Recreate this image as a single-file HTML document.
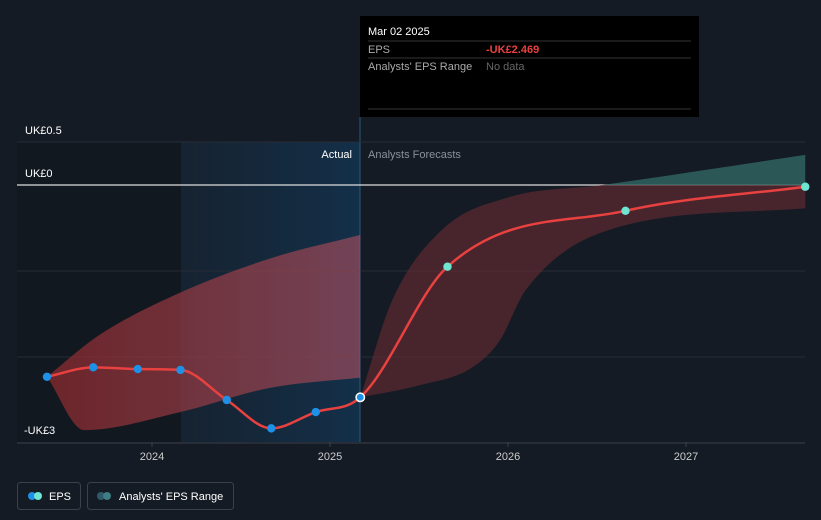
<!DOCTYPE html>
<html><head><meta charset="utf-8"><style>
body{margin:0;background:#151b24;font-family:"Liberation Sans",sans-serif;}
svg{display:block}
</style></head><body>
<svg id="c" width="821" height="520">
<defs>
<linearGradient id="hl" x1="0" x2="1"><stop offset="0" stop-color="#16283a" stop-opacity="0.6"/><stop offset="1" stop-color="#13304a"/></linearGradient>
<linearGradient id="pastband" x1="0" x2="1" y1="0" y2="0"><stop offset="0" stop-color="#8a2a2e" stop-opacity="0.75"/><stop offset="1" stop-color="#b0505f" stop-opacity="0.6"/></linearGradient>
<clipPath id="below"><rect x="0" y="185" width="821" height="300"/></clipPath>
<clipPath id="above"><rect x="0" y="100" width="821" height="85"/></clipPath>
</defs>
<rect x="0" y="0" width="821" height="520" fill="#151b24"/>
<rect x="17" y="142" width="164" height="300" fill="#121820"/>
<rect x="181" y="142" width="179" height="300" fill="url(#hl)"/>
<line x1="360" y1="117" x2="360" y2="442" stroke="#2a5a80" stroke-width="1"/>
<g id="grid"></g>
<g id="bands"></g>
<path id="eps-line" fill="none" stroke="#e8413f" stroke-width="2.5"/>
<g id="pts"></g>
<text x="352" y="158" fill="#fff" font-size="11" text-anchor="end">Actual</text>
<text x="368" y="158" fill="#8a9099" font-size="11">Analysts Forecasts</text>
<text x="25" y="134" fill="#fff" font-size="11">UK£0.5</text>
<text x="25" y="177" fill="#fff" font-size="11">UK£0</text>
<text x="24" y="434" fill="#fff" font-size="11">-UK£3</text>
<g id="xt"></g>
<g>
<rect x="360" y="16" width="339" height="101" fill="#000"/>
<text x="368" y="35" fill="#fff" font-size="11">Mar 02 2025</text>
<line x1="368" y1="41" x2="691" y2="41" stroke="#333"/>
<text x="368" y="53" fill="#aaa" font-size="11">EPS</text>
<text x="486" y="53" fill="#e8413f" font-size="11" font-weight="bold">-UK£2.469</text>
<line x1="368" y1="58" x2="691" y2="58" stroke="#333"/>
<text x="368" y="70" fill="#aaa" font-size="11">Analysts' EPS Range</text>
<text x="486" y="70" fill="#666" font-size="11">No data</text>
<line x1="368" y1="109" x2="691" y2="109" stroke="#333"/>
</g>
<g>
<rect x="17.5" y="482.5" width="63" height="27" rx="3" fill="none" stroke="#3a414c"/>
<circle cx="32" cy="496" r="4" fill="#1e90e6"/><circle cx="38" cy="496" r="4" fill="#6ee6d2"/>
<text x="49" y="500" fill="#fff" font-size="11">EPS</text>
</g>
<g>
<rect x="87.5" y="482.5" width="146" height="27" rx="3" fill="none" stroke="#3a414c"/>
<circle cx="101" cy="496" r="4" fill="#2e5a6a"/><circle cx="107" cy="496" r="4" fill="#3f7d80"/>
<text x="119" y="500" fill="#fff" font-size="11">Analysts' EPS Range</text>
</g>
</svg>
<script>
const epsDates=[2023.41,2023.67,2023.92,2024.16,2024.42,2024.67,2024.92,2025.17,2025.66,2026.66,2027.67];
const epsValues=[-2.23,-2.12,-2.14,-2.15,-2.5,-2.83,-2.64,-2.469,-0.95,-0.30,-0.02];
const pastRangeDates=[2023.41,2023.7,2024.16,2024.67,2025.17];
const pastRangeHigh=[-2.23,-1.75,-1.25,-0.85,-0.58];
const pastRangeLowDates=[2023.41,2023.62,2024.16,2024.66,2025.17];
const pastRangeLow=[-2.23,-2.85,-2.64,-2.36,-2.24];
const fcHighDates=[2025.17,2025.35,2025.63,2026.01,2026.53,2027.67];
const fcHigh=[-2.47,-1.34,-0.52,-0.14,0.0,0.35];
const fcLowDates=[2025.17,2025.5,2025.8,2025.95,2026.1,2026.57,2027.67];
const fcLow=[-2.47,-2.33,-2.12,-1.82,-1.22,-0.52,-0.27];
const yearTicks=[2024,2025,2026,2027];
const gridVals=[0.5,-1,-2,-3];
const X=t=>152+178*(t-2024), Y=v=>185-86*v;
const NS="http://www.w3.org/2000/svg";
function mk(tag,a,p){const e=document.createElementNS(NS,tag);for(const k in a)e.setAttribute(k,a[k]);p.appendChild(e);return e;}
function smooth(pts){const n=pts.length;if(n<2)return '';
const dx=[],s=[];for(let i=0;i<n-1;i++){dx.push(pts[i+1][0]-pts[i][0]);s.push((pts[i+1][1]-pts[i][1])/dx[i]);}
const m=[s[0]];for(let i=1;i<n-1;i++){m.push(s[i-1]*s[i]<=0?0:(s[i-1]+s[i])/2);}m.push(s[n-2]);
for(let i=0;i<n-1;i++){if(s[i]===0){m[i]=0;m[i+1]=0;continue;}const a=m[i]/s[i],b=m[i+1]/s[i],h=a*a+b*b;if(h>9){const t=3/Math.sqrt(h);m[i]=t*a*s[i];m[i+1]=t*b*s[i];}}
let d=`M${pts[0][0]},${pts[0][1]}`;for(let i=0;i<n-1;i++){const h=dx[i]/3;d+=`C${pts[i][0]+h},${pts[i][1]+m[i]*h} ${pts[i+1][0]-h},${pts[i+1][1]-m[i+1]*h} ${pts[i+1][0]},${pts[i+1][1]}`;}return d;}
function P(ds,vs){return ds.map((d,i)=>[X(d),Y(vs[i])]);}
const grid=document.getElementById('grid');
gridVals.forEach(v=>{const l=mk('line',{x1:17,x2:805,y1:Y(v),y2:Y(v),stroke:v===-3?'#3a414c':'#262d37'},grid);

});
const z=mk('line',{x1:17,x2:805,y1:Y(0),y2:Y(0),stroke:'#ddd','stroke-width':1.2},grid);


const xt=document.getElementById('xt');
yearTicks.forEach(y=>{mk('line',{x1:X(y),x2:X(y),y1:442,y2:447,stroke:'#3a414c'},xt);const t=mk('text',{x:X(y),y:460,fill:'#ccc','font-size':11,'text-anchor':'middle'},xt);t.textContent=y;

});
const bands=document.getElementById('bands');
function band(hd,hv,ld,lv){const up=smooth(P(hd,hv));
const loPts=P(ld,lv);const last=loPts[loPts.length-1];
return up+`L${last[0]},${last[1]}`+reversePath(loPts)+'Z';}
function reversePath(pts){
const r=pts.map(p=>[-p[0],p[1]]).reverse();const d=smooth(r);
return d.replace(/^M[^C]*/,'').replace(/(-?\d+\.?\d*(?:e-?\d+)?),(-?\d+\.?\d*(?:e-?\d+)?)/g,(m0,a,b)=>`${-parseFloat(a)},${b}`);}
const pb=mk('path',{d:band(pastRangeDates,pastRangeHigh,pastRangeLowDates,pastRangeLow),fill:'url(#pastband)'},bands);


const fd=band(fcHighDates,fcHigh,fcLowDates,fcLow);
const fb=mk('path',{d:fd,fill:'#5a2a30','fill-opacity':0.75,'clip-path':'url(#below)'},bands);


const fg=mk('path',{d:fd,fill:'#2f6360','fill-opacity':0.85,'clip-path':'url(#above)'},bands);


document.getElementById('eps-line').setAttribute('d',smooth(P(epsDates,epsValues)));
const pts=document.getElementById('pts');
epsDates.forEach((d,i)=>{const fut=d>2025.2,cur=Math.abs(d-2025.17)<0.01;
const c=mk('circle',{cx:X(d),cy:Y(epsValues[i]),r:4.2,fill:fut?'#6ee6d2':'#1e90e6',stroke:cur?'#fff':'none','stroke-width':1.5},pts);

});
</script>
</body></html>
